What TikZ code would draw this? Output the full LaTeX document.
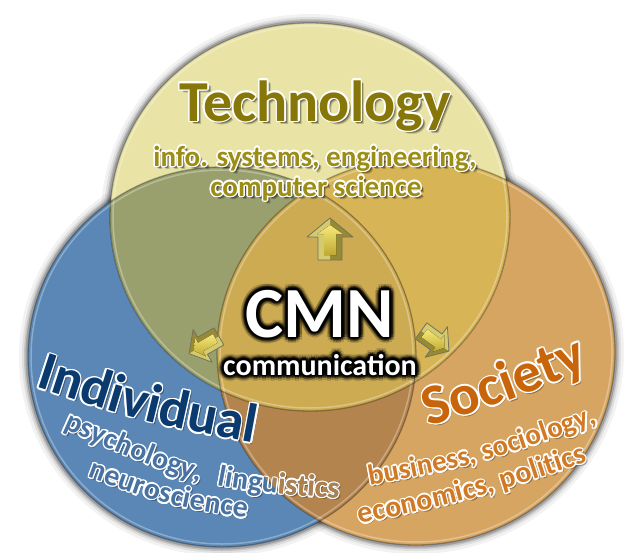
\documentclass[tikz,border=0pt]{standalone}
\usepackage{fontspec}
\setmainfont{Carlito}
\usetikzlibrary{decorations.text}
\definecolor{yel}{RGB}{233,227,165}
\definecolor{blu}{RGB}{90,135,181}
\definecolor{ora}{RGB}{214,165,98}
\definecolor{yb}{RGB}{153,160,110}
\definecolor{yo}{RGB}{215,180,86}
\definecolor{bo}{RGB}{180,132,78}
\definecolor{ybo}{RGB}{204,171,82}
\definecolor{techc}{RGB}{134,119,8}
\definecolor{techsub}{RGB}{156,141,20}
\definecolor{indc}{RGB}{10,58,110}
\definecolor{psyc}{RGB}{72,114,162}
\definecolor{psyo}{RGB}{176,128,74}
\definecolor{socc}{RGB}{200,101,10}
\definecolor{busc}{RGB}{208,122,38}
\definecolor{arrdark}{RGB}{150,138,52}
\definecolor{arrlight}{RGB}{212,202,112}
\definecolor{arrtop}{RGB}{246,232,122}
\definecolor{arrbot}{RGB}{190,170,50}
\definecolor{arredge}{RGB}{118,114,92}
\newcommand\ellY[1]{(310,217) ellipse [x radius={(200+#1)*1pt}, y radius={(194+#1)*1pt}]}
\newcommand\ellB[1]{(222,357) ellipse [x radius={(194+#1)*1pt}, y radius={(190+#1)*1pt}]}
\newcommand\ellO[1]{(416,352) ellipse [x radius={(199+#1)*1pt}, y radius={(193+#1)*1pt}]}
\newcommand\fnt[1]{\bfseries\fontsize{#1}{#1}\selectfont}
\newcommand\psypath{(45,420) .. controls (197,488) .. (360,500)}
% curved outlined text: [align], path, size, fill colour, text, outline radius
\newcommand\ctext[6][center]{%
  \begin{scope}[opacity=0.3]
    \path[shift={(2,2)}, decorate, decoration={text along path, text align={#1}, text color=black, text={|\fnt{#3}|#5}}] #2;
  \end{scope}
  \foreach \a in {0,30,...,330}{%
    \path[shift={(\a:#6)}, decorate, decoration={text along path, text align={#1}, text color=white, text={|\fnt{#3}|#5}}] #2;}
  \path[decorate, decoration={text along path, text align={#1}, text color=#4, text={|\fnt{#3}|#5}}] #2;
}
% straight outlined text: pos, size, fill colour, text, outline radius, name
\newcommand\otext[6]{%
  \begin{scope}[opacity=0.2]
    \node[font=\fnt{#2}, text=black, inner sep=0pt, anchor=base] at ([shift={(3.5,3.5)}]#1) {#4};
  \end{scope}
  \begin{scope}[opacity=0.35]
    \node[font=\fnt{#2}, text=black, inner sep=0pt, anchor=base] at ([shift={(2.5,2.5)}]#1) {#4};
  \end{scope}
  \foreach \a in {0,30,...,330}
    \node[font=\fnt{#2}, text=white, inner sep=0pt, anchor=base] at ([shift={(\a:#5)}]#1) {#4};
  \node[font=\fnt{#2}, text=#3, inner sep=0pt, anchor=base] (#6) at (#1) {#4};
}
% glowing text: pos, size, text, name
\newcommand\glowtext[4]{%
  \foreach \rr/\op in {6/0.15, 4/0.32, 2.2/0.65}{%
    \begin{scope}[opacity=\op]
      \foreach \a in {0,30,...,330}
        \node[font=\fnt{#2}, text=black, inner sep=0pt, anchor=base] at ([shift={(\a:\rr)}]#1) {#3};
    \end{scope}}
  \node[font=\fnt{#2}, text=white, inner sep=0pt, anchor=base] (#4) at (#1) {#3};
}
\tikzset{pics/blockarrow/.style={code={
  \fill[arrdark] (0,-21) -- (23,-2) -- (12,-2) -- (12,21) -- (-12,21) -- (-12,-2) -- (-23,-2) -- cycle;
  \fill[arrlight] (0,-21) -- (-23,-2) -- (-12,-2) -- (-12,21) -- (0,21) -- cycle;
  \fill[top color=arrtop, bottom color=arrbot] (0,-14) -- (13,-5) -- (6,-5) -- (6,16) -- (-6,16) -- (-6,-5) -- (-13,-5) -- cycle;
  \draw[arredge, line width=0.8pt, line join=round] (0,-21) -- (23,-2) -- (12,-2) -- (12,21) -- (-12,21) -- (-12,-2) -- (-23,-2) -- cycle;
}}}
\begin{document}
\begin{tikzpicture}[x=1pt,y=-1pt]
\fill[white] (0,0) rectangle (626,552);
\useasboundingbox (0,0) rectangle (626,552);
% soft grey halos
\foreach \w/\op in {16/0.05, 10/0.08, 6/0.12, 3/0.18}{%
  \draw[black, opacity=\op, line width=\w pt] \ellY{1};
  \draw[black, opacity=\op, line width=\w pt] \ellB{1};
  \draw[black, opacity=\op, line width=\w pt] \ellO{1};}
% regions
\fill[blu] \ellB{0};
\fill[ora] \ellO{0};
\fill[yel] \ellY{0};
\begin{scope}
  \clip \ellY{0};
  \fill[yb] \ellB{0};
  \fill[yo] \ellO{0};
\end{scope}
\begin{scope}
  \clip \ellB{0};
  \fill[bo] \ellO{0};
\end{scope}
\begin{scope}
  \clip \ellY{0};
  \clip \ellB{0};
  \fill[ybo] \ellO{0};
\end{scope}
% rims
\draw[white, opacity=0.3, line width=1.5pt] \ellB{-3};
\draw[white, opacity=0.3, line width=1.5pt] \ellO{-3};
\draw[white, opacity=0.3, line width=1.5pt] \ellY{-3};
\draw[black, opacity=0.3, line width=1.3pt] \ellB{0};
\draw[black, opacity=0.3, line width=1.3pt] \ellO{0};
\draw[black, opacity=0.3, line width=1.3pt] \ellY{0};
% arrows
\pic at (330,239) {blockarrow};
\pic[rotate=120, scale=0.82] at (204,345) {blockarrow};
\pic[rotate=-126, scale=0.82] at (435,341) {blockarrow};
% Technology texts
\otext{315,121}{58}{techc}{Technology}{1.5}{tech}
\otext{315,166}{29}{techsub}{info. systems, engineering,}{1.5}{techA}
\otext{316,196}{29}{techsub}{computer science}{1.5}{techB}
% centre
\glowtext{320,337}{72}{CMN}{cmn}
\glowtext{320,375}{30}{communication}{comm}
% Individual
\ctext{(14,380) .. controls (145,423) .. (276,447)}{55}{indc}{Individual}{1.5}
\ctext[left indent=20pt]{\psypath}{30}{psyc}{psychology,}{1.4}
\ctext[left indent=184pt]{\psypath}{30}{psyc}{linguistics}{1.4}
\begin{scope}
  \clip \ellO{0};
  \path[decorate, decoration={text along path, text align={left indent=184pt}, text color=psyo, text={|\fnt{30}|linguistics}}] \psypath;
\end{scope}
\ctext{(70,470) .. controls (166,506) .. (265,521)}{30}{psyc}{neuroscience}{1.4}
% Society
\ctext{(414,431) .. controls (507,402) .. (604,362)}{57}{socc}{Society}{1.5}
\ctext{(355,488) .. controls (478,465) .. (612,418)}{29}{busc}{business, sociology,}{1.4}
\ctext{(345,527) .. controls (473,500) .. (602,457)}{30}{busc}{economics, politics}{1.4}
\end{tikzpicture}
\end{document}
